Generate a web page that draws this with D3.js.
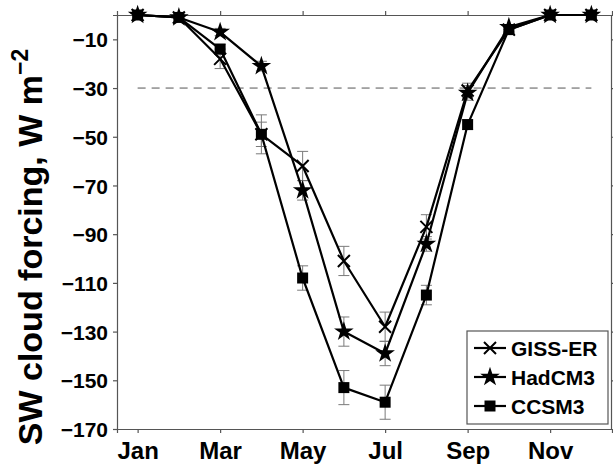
<!DOCTYPE html>
<html><head><meta charset="utf-8">
<script src="https://cdn.jsdelivr.net/npm/d3@7"></script>
<style>
body{margin:0;background:#fff;}
svg{display:block;}
text{font-family:"Liberation Sans",Arial,Helvetica,sans-serif;font-weight:bold;fill:#000;}
</style></head>
<body>
<svg id="c" width="613" height="468"></svg>
<script>
const months = [1,2,3,4,5,6,7,8,9,10,11,12];
const tickMonths = [1,3,5,7,9,11];
const tickLabels = ["Jan","Mar","May","Jul","Sep","Nov"];
const yTicks = [-10,-30,-50,-70,-90,-110,-130,-150,-170];
const seriesNames = ["GISS-ER","HadCM3","CCSM3"];
const giss   = [0,-1,-18,-49,-62,-101,-128,-87,-31,-6,0,0];
const hadcm3 = [0,-1,-7,-21,-72,-130,-139,-94,-32,-5,0,0];
const ccsm3  = [0,-1,-14,-49,-108,-153,-159,-115,-45,-6,0,0];
const gissErr   = [0,0.5,4,5,6,6,6,5,3,1,0.5,0];
const hadcm3Err = [0,0.5,1.5,2,4,6,5,3,3,1,0.5,0];
const ccsm3Err  = [0,0.5,2,8,5,7,7,4,2,1,0.5,0];
const refLine = -30;

const svg = d3.select("#c");
const x = d3.scaleLinear().domain([0.5,12.5]).range([117,612]);
const y = d3.scaleLinear().domain([-170,0]).range([429,15]);
const axisColor = "#555";

const gx = svg.append("g").attr("transform",`translate(0,${y(-170)})`)
  .call(d3.axisBottom(x).tickValues(tickMonths).tickFormat((d,i)=>tickLabels[i]).tickSize(4).tickPadding(9));
const gxt = svg.append("g").attr("transform",`translate(0,${y(0)})`)
  .call(d3.axisTop(x).tickValues(tickMonths).tickFormat("").tickSize(4));
const gy = svg.append("g").attr("transform",`translate(${x(0.5)},0)`)
  .call(d3.axisLeft(y).tickValues(yTicks).tickFormat(d=>d3.format("")(d).replace("-","\u2212")).tickSize(4).tickPadding(5));
const gyr = svg.append("g").attr("transform",`translate(${x(12.5)-1},0)`)
  .call(d3.axisRight(y).tickValues(yTicks).tickFormat("").tickSize(4));
[gx,gxt,gy,gyr].forEach(g=>{
  g.selectAll("path.domain").attr("stroke",axisColor).attr("stroke-width",1.2);
  g.selectAll(".tick line").attr("stroke",axisColor).attr("stroke-width",1.2);
});
gx.selectAll("text").style("font-size","24px").attr("fill","#000");
gy.selectAll("text").style("font-size","21px").attr("fill","#000").attr("dy","0.36em");

svg.append("text")
  .attr("transform",`translate(42,${247}) rotate(-90)`)
  .attr("text-anchor","middle")
  .style("font-size","34px")
  .call(t=>{
    t.append("tspan").text("SW cloud forcing, W m");
    t.append("tspan").attr("dy","-14").style("font-size","23px").text("\u22122");
  });

svg.append("line")
  .attr("x1",x(1)).attr("x2",x(12)).attr("y1",y(refLine)).attr("y2",y(refLine))
  .attr("stroke","#555").attr("stroke-width",1).attr("stroke-dasharray","8,6");

const series = [
  {name:seriesNames[0], v:giss, e:gissErr, m:"x"},
  {name:seriesNames[1], v:hadcm3, e:hadcm3Err, m:"star"},
  {name:seriesNames[2], v:ccsm3, e:ccsm3Err, m:"square"}
];

series.forEach(s=>{
  const g = svg.append("g").attr("stroke","#7a7a7a").attr("stroke-width",1);
  months.forEach((mo,i)=>{
    if(s.e[i] <= 0) return;
    const cx = x(mo), y1 = y(s.v[i]+s.e[i]), y2 = y(s.v[i]-s.e[i]);
    g.append("line").attr("x1",cx).attr("x2",cx).attr("y1",y1).attr("y2",y2);
    g.append("line").attr("x1",cx-5.5).attr("x2",cx+5.5).attr("y1",y1).attr("y2",y1);
    g.append("line").attr("x1",cx-5.5).attr("x2",cx+5.5).attr("y1",y2).attr("y2",y2);
  });
});

const line = d3.line().x((d,i)=>x(months[i])).y(d=>y(d));
function marker(g, type, cx, cy){
  if(type==="x"){
    const r=6;
    g.append("path").attr("d",`M${cx-r},${cy-r}L${cx+r},${cy+r}M${cx-r},${cy+r}L${cx+r},${cy-r}`)
      .attr("stroke","#000").attr("stroke-width",2).attr("fill","none");
  } else if(type==="star"){
    g.append("path").attr("d",d3.symbol(d3.symbolStar,120)()).attr("transform",`translate(${cx},${cy})`).attr("fill","#000");
  } else {
    g.append("path").attr("d",d3.symbol(d3.symbolSquare,121)()).attr("transform",`translate(${cx},${cy})`).attr("fill","#000");
  }
}
series.forEach(s=>{
  svg.append("path").datum(s.v).attr("d",line).attr("fill","none").attr("stroke","#000").attr("stroke-width",2.2).attr("stroke-linejoin","round");
});
series.forEach(s=>{
  const g = svg.append("g");
  s.v.forEach((v,i)=>marker(g,s.m,x(months[i]),y(v)));
});

const lg = svg.append("g");
lg.append("rect").attr("x",467).attr("y",331).attr("width",141).attr("height",93)
  .attr("fill","#fff").attr("stroke",axisColor).attr("stroke-width",1.2);
series.forEach((s,i)=>{
  const cy = 348 + i*29;
  lg.append("line").attr("x1",474).attr("x2",506).attr("y1",cy).attr("y2",cy).attr("stroke","#000").attr("stroke-width",2.2);
  marker(lg,s.m,490,cy);
  lg.append("text").attr("x",511).attr("y",cy).attr("dy","0.36em").style("font-size","21px").text(s.name);
});
</script>
</body></html>
